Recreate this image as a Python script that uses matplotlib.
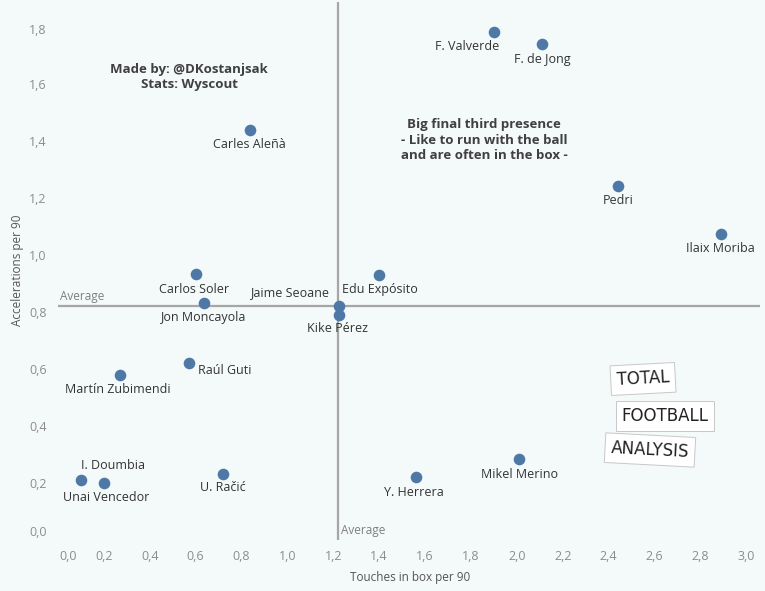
import matplotlib.pyplot as plt
import matplotlib.transforms as mtransforms

players = ["F. Valverde", "F. de Jong", "Carles Aleñà", "Pedri", "Ilaix Moriba",
           "Carlos Soler", "Edu Expósito", "Jon Moncayola", "Jaime Seoane", "Kike Pérez",
           "Raúl Guti", "Martín Zubimendi", "I. Doumbia", "Unai Vencedor", "U. Račić",
           "Y. Herrera", "Mikel Merino"]
touches_box = [1.90, 2.11, 0.836, 2.44, 2.89,
               0.60, 1.40, 0.636, 1.223, 1.223,
               0.57, 0.27, 0.10, 0.20, 0.718,
               1.56, 2.01]
accelerations = [1.782, 1.74, 1.44, 1.242, 1.074,
                 0.933, 0.93, 0.832, 0.821, 0.79,
                 0.621, 0.579, 0.21, 0.20, 0.232,
                 0.221, 0.284]
avg_touches = 1.219
avg_acc = 0.821

x_ticks = [0.0, 0.2, 0.4, 0.6, 0.8, 1.0, 1.2, 1.4, 1.6, 1.8, 2.0, 2.2, 2.4, 2.6, 2.8, 3.0]
y_ticks = [0.0, 0.2, 0.4, 0.6, 0.8, 1.0, 1.2, 1.4, 1.6, 1.8]

# label offsets in pixels (dx, dy up) and alignment
offsets = {
    "F. Valverde": (-27, -14, "center"),
    "F. de Jong": (0, -15, "center"),
    "Carles Aleñà": (0, -15, "center"),
    "Pedri": (0, -14, "center"),
    "Ilaix Moriba": (-1, -15, "center"),
    "Carlos Soler": (-2, -15, "center"),
    "Edu Expósito": (1, -15, "center"),
    "Jon Moncayola": (-1, -15, "center"),
    "Jaime Seoane": (-10, 13, "right"),
    "Kike Pérez": (-1, -14, "center"),
    "Raúl Guti": (9, -7, "left"),
    "Martín Zubimendi": (-2, -14, "center"),
    "I. Doumbia": (32, 15, "center"),
    "Unai Vencedor": (2, -14, "center"),
    "U. Račić": (0, -14, "center"),
    "Y. Herrera": (-2, -15, "center"),
    "Mikel Merino": (0, -15, "center"),
}

BG = "#f4f9fa"
DOT = "#4e79a7"
GREY = "#a6a6a6"
FONT = ["Open Sans", "DejaVu Sans"]
plt.rcParams['font.family'] = FONT

fig = plt.figure(figsize=(7.65, 5.91), dpi=100, facecolor=BG)
ax = fig.add_axes([58 / 765, 51 / 591, 702 / 765, 538 / 591])
ax.set_facecolor(BG)
for s in ax.spines.values():
    s.set_visible(False)

ax.set_xlim(0, 3.06)
ax.set_ylim(0, 1.888)

ax.axvline(avg_touches, color=GREY, lw=1.6, zorder=1)
ax.axhline(avg_acc, color=GREY, lw=1.6, zorder=1)

ax.scatter(touches_box, accelerations, s=70, color=DOT, zorder=3, linewidths=0)

for name, x, y in zip(players, touches_box, accelerations):
    dx, dy, ha = offsets[name]
    ax.annotate(name, (x, y), xytext=(dx * 0.72, dy * 0.72), textcoords="offset points",
                ha=ha, va="center", fontsize=9, color="#333333", zorder=4)

ax.text(0.003, avg_acc + 0.01, "Average", transform=ax.get_yaxis_transform(),
        ha="left", va="bottom", fontsize=8.5, color="#7f7f7f")
ax.text(avg_touches + 0.015, 0.012, "Average", ha="left", va="bottom",
        fontsize=8.5, color="#7f7f7f")

ax.set_xticks(x_ticks)
ax.set_yticks(y_ticks)
ax.set_xticklabels([("%.1f" % v).replace(".", ",") for v in x_ticks])
ax.set_yticklabels([("%.1f" % v).replace(".", ",") for v in y_ticks])
ax.tick_params(length=0, labelsize=9, labelcolor="#8c8c8c", pad=7)
ax.tick_params(axis="y", pad=8)

# Tableau pushes the edge labels inward
lab = ax.get_xticklabels()[0]
lab.set_transform(lab.get_transform() + mtransforms.ScaledTranslation(10 / 100, 0, fig.dpi_scale_trans))
lab = ax.get_yticklabels()[0]
lab.set_transform(lab.get_transform() + mtransforms.ScaledTranslation(0, 9 / 100, fig.dpi_scale_trans))
lab = ax.get_yticklabels()[-1]
lab.set_transform(lab.get_transform() + mtransforms.ScaledTranslation(0, -2 / 100, fig.dpi_scale_trans))

fig.text(410 / 765, 1 - 577 / 591, "Touches in box per 90", ha="center", va="center",
         fontsize=8.5, color="#555555")
fig.text(18 / 765, 1 - 270 / 591, "Accelerations per 90", ha="center", va="center",
         rotation=90, fontsize=8.5, color="#555555")

fig.text(189 / 765, 1 - 77 / 591, "Made by: @DKostanjsak\nStats: Wyscout", ha="center",
         va="center", fontsize=9.5, fontweight="bold", color="#404040", linespacing=1.2)
fig.text(484 / 765, 1 - 140 / 591,
         "Big final third presence\n- Like to run with the ball\nand are often in the box -",
         ha="center", va="center", fontsize=9.5, fontweight="bold", color="#404040",
         linespacing=1.25)

# logo
logo = [("TOTAL", 643, 379, 3), ("FOOTBALL", 665, 416, 0), ("ANALYSIS", 650, 450, -3)]
for word, px, py, rot in logo:
    fig.text(px / 765, 1 - py / 591, word, ha="center", va="center", fontsize=12,
             family=["DejaVu Sans Condensed", "DejaVu Sans"], color="#222222",
             rotation=rot, zorder=5,
             bbox=dict(boxstyle="square,pad=0.35", fc="white", ec="#c8c8c8", lw=0.7))

fig.savefig("out.png", dpi=100, facecolor=BG)
